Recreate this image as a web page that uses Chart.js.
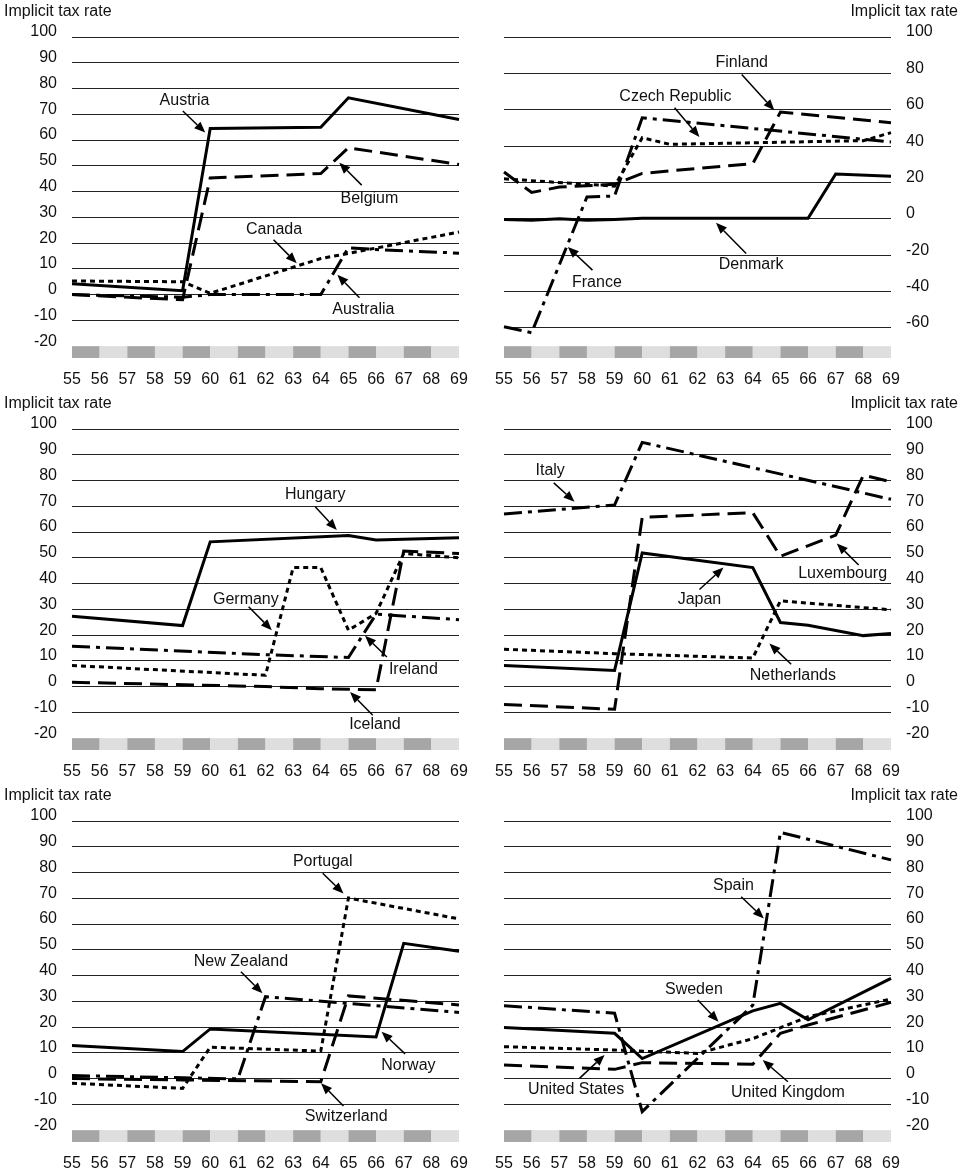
<!DOCTYPE html>
<html>
<head>
<meta charset="utf-8">
<script src="https://cdn.jsdelivr.net/npm/chart.js@4.4.1/dist/chart.umd.min.js"></script>
<style>
  html, body { margin: 0; padding: 0; background: #fff; }
  #wrap { position: relative; width: 966px; height: 1172px; overflow: hidden; background: #fff; }
  #wrap canvas { position: absolute; }
</style>
</head>
<body>
<div id="wrap">
  <canvas id="p1" width="483" height="388" style="left:0;top:0"></canvas>
  <canvas id="p2" width="483" height="388" style="left:483px;top:0"></canvas>
  <canvas id="p3" width="483" height="388" style="left:0;top:392px"></canvas>
  <canvas id="p4" width="483" height="388" style="left:483px;top:392px"></canvas>
  <canvas id="p5" width="483" height="388" style="left:0;top:784px"></canvas>
  <canvas id="p6" width="483" height="388" style="left:483px;top:784px"></canvas>
</div>
<script>
// Years 1955-1969 (two-digit labels)
const years = ['55','56','57','58','59','60','61','62','63','64','65','66','67','68','69'];
const firstYear = 55;

// Tick labels
const ticksBy10 = [100, 90, 80, 70, 60, 50, 40, 30, 20, 10, 0, -10, -20];
const ticksBy20 = [100, 80, 60, 40, 20, 0, -20, -40, -60];

// Implicit tax rates; null = no observation (line spans the gap)
const austria     = [4.2, null, null, null, 1.5, 64.5, null, null, null, 65, 76.4, null, null, null, 68];
const belgium     = [0, null, null, null, -2, 45.3, null, null, null, 47, 57, null, null, null, 50.5];
const canada      = [5.3, null, null, null, 5, 0.5, null, null, null, 14, 16, null, null, null, 24.3];
const australia   = [0, null, null, null, -1, 0, null, null, null, 0, 18.2, 17.5, null, null, 16.1];

const finland     = [25.8, 14.5, 17.5, null, 19, 25, null, null, null, 30.4, 58.7, null, null, null, 52.9];
const czechRep    = [22, null, null, null, 18, 44.6, 41, null, null, null, null, null, null, 43, 47.4];
const france      = [-59.3, -62.6, null, 12, 12.6, 55.6, null, null, null, null, null, null, null, null, 42.3];
const denmark     = [-0.3, -0.8, 0, -0.8, -0.3, 0.3, null, null, null, null, null, 0.3, 24.7, null, 23.4];

const hungary     = [27.3, null, null, null, 23.7, 56.2, null, null, null, null, 58.7, 56.9, null, null, 57.8];
const ireland     = [15.7, null, null, null, null, null, null, 12.4, null, null, 11.3, 28.1, null, null, 26];
const germany     = [8.2, null, null, null, null, null, null, 4.4, 46.2, 46.2, 21.9, 28.4, 51.7, null, 50];
const iceland     = [1.7, null, null, null, null, null, null, 0, null, -0.8, null, -1.2, 52.6, null, 51.7];

const italy       = [67, null, null, null, 70.5, 94.8, null, null, null, null, null, null, null, null, 72.7];
const luxembourg  = [-6.9, null, null, null, -8.8, 65.7, null, null, null, 67.5, 50.6, null, 58.8, 82.1, 79.5];
const japan       = [8.2, null, null, null, 6.3, 51.9, null, null, null, 46.2, 24.9, 23.8, null, 19.8, 20.6];
const netherlands = [14.5, null, null, null, 12.8, null, null, null, null, 11.1, 33.3, null, null, null, 29.8];

const norway      = [12.9, null, null, null, 10.5, 19.3, null, null, null, null, null, 16.2, 52.5, null, 49.4];
const portugal    = [-1.8, null, null, null, -3.8, 12.2, null, null, null, 10.7, 70.1, null, null, null, 62];
const newZealand  = [1.2, null, null, null, null, null, -0.1, 31.8, null, null, null, null, null, null, 25.7];
const switzerland = [0, null, null, null, -0.5, null, null, null, null, -1.2, 32.1, null, null, null, 28.6];

const spain       = [28.3, null, null, null, 25.4, -12.8, null, null, null, 28.5, 95.6, null, null, null, 84.9];
const sweden      = [19.8, null, null, null, 17.6, 7.8, null, null, null, 26.3, 29.2, 22.8, null, null, 38.9];
const usa         = [12.4, null, null, null, 11.1, null, null, 9.8, null, 15.5, null, 24, null, null, 30.9];
const uk          = [5.3, null, null, null, 3.6, 6.2, null, null, null, 5.6, 17.6, 20.8, null, null, 29.6];

// Line styles
const DASH = {
  solid: [],
  dash: [18, 8],
  dot: [5, 4],
  dashdot: [18, 6, 4, 6]
};
const bandColors = ['#a6a6a6', '#dedede'];
const FONT = 'Liberation Sans, Arial, Helvetica, sans-serif';

// Country labels with pointer arrows: text centre, arrow tail and arrow head (year, rate)
const panels = [
  {
    id: 'p1', side: 'left', min: -24.6, max: 100, ticks: ticksBy10, gridFloor: -10, bandFrom: -20,
    series: [['Austria', austria, 'solid'], ['Belgium', belgium, 'dash'], ['Canada', canada, 'dot'], ['Australia', australia, 'dashdot']],
    notes: [
      { text: 'Austria',   t: [59.07, 75.5], a: [59.01, 71.3], h: [59.82, 62.9] },
      { text: 'Belgium',   t: [65.76, 37.1], a: [65.48, 42.5], h: [64.67, 51.2] },
      { text: 'Canada',    t: [62.31, 25.2], a: [62.29, 21.3], h: [63.13, 12.2] },
      { text: 'Australia', t: [65.54, -5.7], a: [65.40, -1.2], h: [64.60, 7.7] }
    ]
  },
  {
    id: 'p2', side: 'right', min: -76.5, max: 100, ticks: ticksBy20, gridFloor: -60, bandFrom: -70,
    series: [['Denmark', denmark, 'solid'], ['Finland', finland, 'dash'], ['Czech Republic', czechRep, 'dot'], ['France', france, 'dashdot']],
    notes: [
      { text: 'Finland',        t: [63.60, 85.8],  a: [63.60, 79.4],  h: [64.78, 59.7] },
      { text: 'Czech Republic', t: [61.20, 67.5],  a: [61.17, 61.1],  h: [62.07, 45] },
      { text: 'Denmark',        t: [63.94, -25],   a: [63.76, -19],   h: [62.67, -2.2] },
      { text: 'France',         t: [58.36, -35.1], a: [58.20, -28.2], h: [57.31, -15.4] }
    ]
  },
  {
    id: 'p3', side: 'left', min: -24.6, max: 100, ticks: ticksBy10, gridFloor: -10, bandFrom: -20,
    series: [['Hungary', hungary, 'solid'], ['Iceland', iceland, 'dash'], ['Germany', germany, 'dot'], ['Ireland', ireland, 'dashdot']],
    notes: [
      { text: 'Hungary', t: [63.80, 74.4],  a: [63.80, 69.8],  h: [64.58, 60.8] },
      { text: 'Germany', t: [61.29, 33.9],  a: [61.39, 31],    h: [62.23, 21.9] },
      { text: 'Ireland', t: [67.35, 6.6],   a: [66.39, 11.5],  h: [65.60, 19.7] },
      { text: 'Iceland', t: [65.96, -14.8], a: [65.88, -11.1], h: [65.06, -2.1] }
    ]
  },
  {
    id: 'p4', side: 'right', min: -24.6, max: 100, ticks: ticksBy10, gridFloor: -10, bandFrom: -20,
    series: [['Japan', japan, 'solid'], ['Luxembourg', luxembourg, 'dash'], ['Netherlands', netherlands, 'dot'], ['Italy', italy, 'dashdot']],
    notes: [
      { text: 'Italy',       t: [56.67, 84],   a: [56.80, 79.1], h: [57.55, 71.8] },
      { text: 'Luxembourg',  t: [67.25, 43.7], a: [67.83, 47.2], h: [67.04, 55.6] },
      { text: 'Japan',       t: [62.07, 33.8], a: [62.07, 37.7], h: [62.94, 46.2] },
      { text: 'Netherlands', t: [65.45, 4.4],  a: [65.39, 8.7],  h: [64.60, 16.7] }
    ]
  },
  {
    id: 'p5', side: 'left', min: -24.6, max: 100, ticks: ticksBy10, gridFloor: -10, bandFrom: -20,
    series: [['Norway', norway, 'solid'], ['Switzerland', switzerland, 'dash'], ['Portugal', portugal, 'dot'], ['New Zealand', newZealand, 'dashdot']],
    notes: [
      { text: 'Portugal',    t: [64.07, 84.2],  a: [64.07, 79.7],  h: [64.82, 71.9] },
      { text: 'New Zealand', t: [61.11, 45.4],  a: [61.11, 41.5],  h: [61.89, 33.1] },
      { text: 'Norway',      t: [67.17, 4.9],   a: [67.05, 9.6],   h: [66.20, 18.2] },
      { text: 'Switzerland', t: [64.92, -14.7], a: [64.82, -10.6], h: [64.01, -1.8] }
    ]
  },
  {
    id: 'p6', side: 'right', min: -24.6, max: 100, ticks: ticksBy10, gridFloor: -10, bandFrom: -20,
    series: [['Sweden', sweden, 'solid'], ['United Kingdom', uk, 'dash'], ['United States', usa, 'dot'], ['Spain', spain, 'dashdot']],
    notes: [
      { text: 'Spain',          t: [63.30, 74.8], a: [63.58, 70.6], h: [64.40, 62.2] },
      { text: 'Sweden',         t: [61.87, 34.7], a: [62.01, 30.5], h: [62.76, 22.1] },
      { text: 'United States',  t: [57.61, -4.4], a: [57.73, 0.1],  h: [58.64, 9.2] },
      { text: 'United Kingdom', t: [65.27, -5.3], a: [65.27, -1.2], h: [64.36, 7.2] }
    ]
  }
];

// Alternating grey strip along the bottom of the plot, one block per year interval
const yearStrip = {
  id: 'yearStrip',
  beforeDatasetsDraw(chart, args, opts) {
    const { ctx, chartArea, scales: { x, y } } = chart;
    const top = y.getPixelForValue(opts.from);
    ctx.save();
    for (let i = 0; i < years.length - 1; i++) {
      const x0 = x.getPixelForValue(i);
      const x1 = x.getPixelForValue(i + 1);
      ctx.fillStyle = bandColors[i % 2];
      ctx.fillRect(x0, top, x1 - x0, chartArea.bottom - top);
    }
    ctx.restore();
  }
};

// Axis caption above the tick labels
const axisCaption = {
  id: 'axisCaption',
  afterDraw(chart, args, opts) {
    const { ctx, width } = chart;
    ctx.save();
    ctx.font = '16px ' + FONT;
    ctx.fillStyle = '#111';
    ctx.textBaseline = 'middle';
    if (opts.side === 'left') {
      ctx.textAlign = 'left';
      ctx.fillText(opts.text, 4, 12);
    } else {
      ctx.textAlign = 'right';
      ctx.fillText(opts.text, width - 8, 12);
    }
    ctx.restore();
  }
};

// Country names with arrows pointing to their lines
const countryNotes = {
  id: 'countryNotes',
  afterDatasetsDraw(chart, args, opts) {
    const { ctx, scales: { x, y } } = chart;
    const px = v => x.getPixelForValue(v - firstYear);
    ctx.save();
    for (const n of opts.notes) {
      ctx.font = '16px ' + FONT;
      ctx.fillStyle = '#111';
      ctx.textAlign = 'center';
      ctx.textBaseline = 'middle';
      ctx.fillText(n.text, px(n.t[0]), y.getPixelForValue(n.t[1]));

      const x0 = px(n.a[0]), y0 = y.getPixelForValue(n.a[1]);
      const x1 = px(n.h[0]), y1 = y.getPixelForValue(n.h[1]);
      const ang = Math.atan2(y1 - y0, x1 - x0);
      const len = 11, half = 4.5;
      const bx = x1 - len * Math.cos(ang), by = y1 - len * Math.sin(ang);
      ctx.strokeStyle = '#000';
      ctx.lineWidth = 1.5;
      ctx.setLineDash([]);
      ctx.beginPath();
      ctx.moveTo(x0, y0);
      ctx.lineTo(bx, by);
      ctx.stroke();
      ctx.fillStyle = '#000';
      ctx.beginPath();
      ctx.moveTo(x1, y1);
      ctx.lineTo(bx + half * Math.sin(ang), by - half * Math.cos(ang));
      ctx.lineTo(bx - half * Math.sin(ang), by + half * Math.cos(ang));
      ctx.closePath();
      ctx.fill();
    }
    ctx.restore();
  }
};

for (const p of panels) {
  const left = p.side === 'left';
  new Chart(document.getElementById(p.id), {
    type: 'line',
    data: {
      labels: years,
      datasets: p.series.map(([name, values, style]) => ({
        label: name,
        data: values,
        borderColor: '#000',
        borderWidth: 3,
        borderDash: DASH[style],
        borderCapStyle: 'butt',
        borderJoinStyle: 'miter',
        pointRadius: 0,
        tension: 0,
        fill: false,
        spanGaps: true
      }))
    },
    options: {
      responsive: false,
      animation: false,
      devicePixelRatio: 1,
      layout: { padding: left ? { left: 0, right: 24, top: 37, bottom: 0 } : { left: 21, right: 0, top: 37, bottom: 0 } },
      plugins: {
        legend: { display: false },
        tooltip: { enabled: false },
        yearStrip: { from: p.bandFrom },
        axisCaption: { text: 'Implicit tax rate', side: p.side },
        countryNotes: { notes: p.notes }
      },
      scales: {
        x: {
          type: 'category',
          offset: false,
          grid: { display: false, drawTicks: false },
          border: { display: false },
          ticks: { color: '#111', font: { size: 16, family: FONT }, padding: 12, maxRotation: 0, autoSkip: false },
          afterFit: s => { s.height = 30; }
        },
        y: {
          position: p.side,
          min: p.min,
          max: p.max,
          afterBuildTicks: s => { s.ticks = p.ticks.map(v => ({ value: v })); },
          afterFit: s => { s.width = left ? 72 : 75; },
          grid: {
            drawTicks: false,
            lineWidth: 1,
            color: c => (c.tick && c.tick.value >= p.gridFloor) ? '#222' : 'rgba(0,0,0,0)'
          },
          border: { display: false },
          ticks: { color: '#111', font: { size: 16, family: FONT }, padding: 15, labelOffset: -5 }
        }
      }
    },
    plugins: [yearStrip, axisCaption, countryNotes]
  });
}
</script>
</body>
</html>
